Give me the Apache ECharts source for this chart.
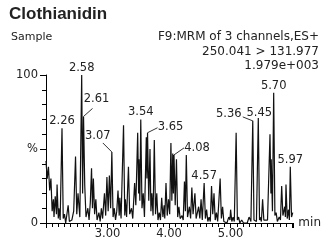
<!DOCTYPE html>
<html>
<head>
<meta charset="utf-8">
<script src="https://cdn.jsdelivr.net/npm/echarts@6/dist/echarts.min.js"></script>
<style>
  html, body { margin: 0; padding: 0; background: #fff; }
  #chart { width: 324px; height: 246px; }
</style>
</head>
<body>
<div id="chart"></div>
<script>
// retention time (min) and relative intensity (%)
const times = [
  2.00, 2.02, 2.04, 2.06, 2.08, 2.10, 2.12, 2.13, 2.15, 2.17, 2.18, 2.20, 2.21, 2.23, 2.26, 2.28, 2.30, 2.32, 2.36, 2.38,
  2.42, 2.45, 2.48, 2.50, 2.52, 2.55, 2.58, 2.595, 2.61, 2.63, 2.65, 2.68, 2.70, 2.72, 2.74, 2.755, 2.77, 2.79, 2.81, 2.83,
  2.86, 2.88, 2.90, 2.92, 2.95, 2.97, 2.99, 3.01, 3.03, 3.05, 3.07, 3.09, 3.11, 3.13, 3.15, 3.17, 3.19, 3.20, 3.22, 3.26,
  3.28, 3.29, 3.31, 3.34, 3.36, 3.39, 3.41, 3.44, 3.46, 3.49, 3.505, 3.51, 3.525, 3.54, 3.56, 3.58, 3.60, 3.63, 3.64, 3.65,
  3.67, 3.69, 3.705, 3.72, 3.74, 3.76, 3.78, 3.80, 3.82, 3.84, 3.86, 3.88, 3.90, 3.92, 3.93, 3.95, 3.97, 3.99, 4.01, 4.03,
  4.045, 4.06, 4.07, 4.08, 4.10, 4.12, 4.14, 4.16, 4.18, 4.21, 4.23, 4.25, 4.265, 4.28, 4.30, 4.33, 4.35, 4.37, 4.39, 4.42,
  4.44, 4.48, 4.50, 4.52, 4.54, 4.57, 4.59, 4.61, 4.63, 4.65, 4.67, 4.69, 4.71, 4.73, 4.75, 4.77, 4.79, 4.83, 4.85, 4.87,
  4.89, 4.92, 4.94, 4.97, 4.99, 5.00, 5.02, 5.04, 5.06, 5.09, 5.11, 5.13, 5.15, 5.18, 5.21, 5.24, 5.27, 5.30, 5.33, 5.36,
  5.38, 5.39, 5.42, 5.45, 5.47, 5.48, 5.50, 5.52, 5.54, 5.57, 5.60, 5.64, 5.655, 5.66, 5.68, 5.70, 5.72, 5.74, 5.76, 5.79,
  5.81, 5.83, 5.85, 5.88, 5.89, 5.90, 5.92, 5.94, 5.955, 5.97, 5.99, 6.01
];
const intensity = [
  42, 30, 38, 22, 30, 8, 16, 4, 18, 6, 26, 3, 10, 2, 64, 3, 6, 0, 12, 1,
  2, 8, 45, 6, 20, 4, 100, 20, 72, 25, 4, 10, 2, 14, 37, 10, 30, 6, 16, 2,
  7, 1, 10, 3, 20, 5, 31, 8, 32, 10, 48, 4, 10, 2, 8, 22, 5, 17, 3, 66,
  5, 16, 4, 38, 6, 10, 3, 27, 12, 61, 20, 43, 15, 70, 10, 20, 4, 58, 30, 61,
  15, 50, 8, 20, 5, 56, 6, 20, 2, 7, 2, 17, 4, 12, 3, 27, 5, 16, 6, 54,
  15, 47, 20, 46, 12, 43, 4, 11, 3, 5, 2, 28, 8, 46, 4, 11, 3, 24, 6, 20,
  3, 11, 3, 16, 2, 27, 3, 9, 1, 4, 1, 25, 6, 20, 2, 7, 1, 30, 3, 11,
  1, 2, 0, 4, 2, 9, 1, 4, 1, 61, 2, 4, 0, 2, 0, 1, 0, 4, 1, 69,
  2, 3, 1, 71, 2, 4, 1, 16, 2, 1, 2, 60, 20, 43, 8, 88, 5, 7, 1, 4,
  2, 25, 5, 11, 4, 26, 3, 9, 2, 38, 4, 7
];

// labelled peak apexes
const peakTimes = [2.26, 2.58, 2.61, 3.07, 3.54, 3.65, 4.08, 4.57, 5.36, 5.45, 5.70, 5.97];
const peakHeights = [64, 100, 72, 48, 70, 61, 46, 27, 69, 71, 88, 38];

const xLabelTicks = [3, 4, 5];
const yLabels = { 0: '0', 50: '%', 100: '100' };

const headerLines = ['F9:MRM of 3 channels,ES+', '250.041 > 131.977', '1.979e+003'];

// label offsets from the apex (px), with an optional leader start
const labelLayout = {
  '2.61': { dx: 13, dy: -17, lead: [9, -8] },
  '3.07': { dx: -14, dy: -16, lead: [-9, -9] },
  '3.65': { dx: 23, dy: -6, lead: [10, -5] },
  '4.08': { dx: 23, dy: -7, lead: [10, -7] },
  '5.36': { dx: -24, dy: -7, lead: [-10, -4] },
  '5.45': { dx: 1, dy: -5 }
};

const TXT = '#222';
const FONT = '"DejaVu Sans", sans-serif';
const headerTops = [31, 46, 60];

const chart = echarts.init(document.getElementById('chart'));

const option = {
  animation: false,
  grid: { left: 46, right: 29, top: 75, bottom: 23 },
  graphic: [
    {
      type: 'text', left: 9, top: 6,
      style: { text: 'Clothianidin', fill: TXT, font: 'bold 17px "Liberation Sans", Arial, sans-serif' }
    },
    {
      type: 'text', left: 11, top: 32,
      style: { text: 'Sample', fill: TXT, font: '11px ' + FONT }
    }
  ].concat(headerLines.map((t, i) => ({
    type: 'text', right: 5, top: headerTops[i],
    style: { text: t, fill: TXT, font: '12px ' + FONT }
  }))),
  xAxis: {
    type: 'value',
    min: 2,
    max: 6.02,
    interval: 1,
    name: 'min',
    nameLocation: 'end',
    nameGap: 5,
    nameTextStyle: { color: TXT, fontFamily: 'DejaVu Sans', fontSize: 12, verticalAlign: 'middle', padding: [4, 0, 0, 0] },
    axisLine: { lineStyle: { color: '#000', width: 1 } },
    axisTick: { length: 5, lineStyle: { color: '#000' } },
    minorTick: { show: true, splitNumber: 10, length: 4, lineStyle: { color: '#000' } },
    splitLine: { show: false },
    axisLabel: {
      color: TXT, fontFamily: 'DejaVu Sans', fontSize: 11.5, margin: 5,
      formatter: (v) => (xLabelTicks.includes(v) ? v.toFixed(2) : '')
    }
  },
  yAxis: {
    type: 'value',
    min: 0,
    max: 100,
    interval: 50,
    axisLine: { show: true, lineStyle: { color: '#000', width: 1 } },
    axisTick: { show: true, length: 6, lineStyle: { color: '#000' } },
    minorTick: { show: true, splitNumber: 5, length: 4, lineStyle: { color: '#000' } },
    splitLine: { show: false },
    axisLabel: {
      color: TXT, fontFamily: 'DejaVu Sans', fontSize: 11.5, margin: 8,
      formatter: (v) => yLabels[v] ?? ''
    }
  },
  series: [
    {
      type: 'line',
      data: times.map((t, i) => [t, intensity[i]]),
      symbol: 'none',
      lineStyle: { color: '#111', width: 1.2 },
      clip: false
    },
    {
      type: 'custom',
      clip: false,
      data: peakTimes.map((t, i) => [t, peakHeights[i]]),
      renderItem: (params, api) => {
        const t = api.value(0);
        const p = api.coord([t, api.value(1)]);
        const key = t.toFixed(2);
        const lay = labelLayout[key] || { dx: 0, dy: -7 };
        const children = [{
          type: 'text',
          x: p[0] + lay.dx,
          y: p[1] + lay.dy,
          style: { text: key, fill: TXT, font: '11.5px ' + FONT, align: 'center', verticalAlign: 'middle' }
        }];
        if (lay.lead) {
          children.push({
            type: 'line',
            shape: { x1: p[0] + lay.lead[0], y1: p[1] + lay.lead[1], x2: p[0], y2: p[1] },
            style: { stroke: '#333', lineWidth: 1 }
          });
        }
        return { type: 'group', children };
      }
    }
  ]
};

chart.setOption(option);
</script>
</body>
</html>
